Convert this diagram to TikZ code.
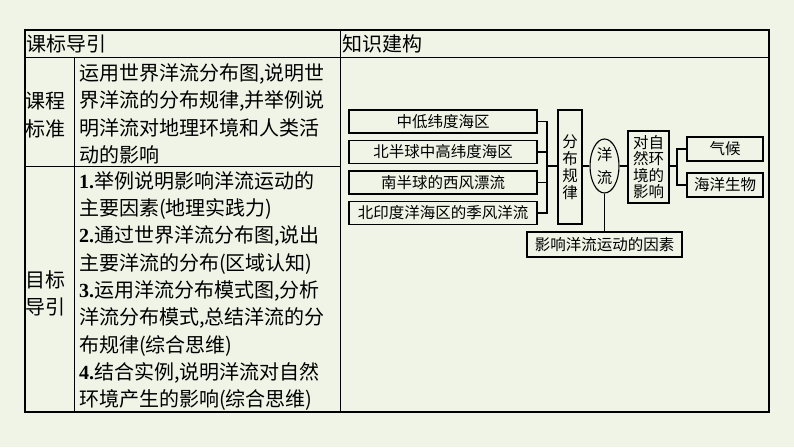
\documentclass[tikz,border=0pt]{standalone}
\usepackage{fontspec}
\usetikzlibrary{shapes.geometric}
\newfontfamily\cjk{Noto Sans CJK SC}
\newfontfamily\numfont{Liberation Serif}
\definecolor{paper_green}{RGB}{239,244,230}
\tikzset{
  cell/.style={inner sep=0pt, align=left, font=\cjk\fontsize{20}{27.3}\selectfont},
  item/.style={draw, line width=1.1pt, inner sep=0pt, align=center, font=\cjk\fontsize{15.5}{17}\selectfont},
  link/.style={line width=1.1pt}
}
\begin{document}
\begin{tikzpicture}[x=1pt,y=-1pt]
\fill[paper_green] (0,0) rectangle (794,447);
\useasboundingbox (0,0) rectangle (794,447);
\draw[line width=1.6pt] (25,30) rectangle (769,412);
\draw[line width=0.9pt] (25,57) -- (769,57) (340,30) -- (340,412) (74,57) -- (74,412) (25,166) -- (340,166);

\node[cell, anchor=west] (head_left) at (26,44) {课标导引};
\node[cell, anchor=west] (head_right) at (342,44) {知识建构};
\node[cell, anchor=west] (std_label) at (25,115) {课程\\标准};
\node[cell, anchor=west] (goal_label) at (25,293.5) {目标\\导引};
\node[cell, anchor=west] (std_text) at (79,114) {运用世界洋流分布图,说明世\\界洋流的分布规律,并举例说\\明洋流对地理环境和人类活\\动的影响};
\node[cell, anchor=west] (goal_text) at (79,291) {{\numfont\bfseries 1.}举例说明影响洋流运动的\\主要因素(地理实践力)\\{\numfont\bfseries 2.}通过世界洋流分布图,说出\\主要洋流的分布(区域认知)\\{\numfont\bfseries 3.}运用洋流分布模式图,分析\\洋流分布模式,总结洋流的分\\布规律(综合思维)\\{\numfont\bfseries 4.}结合实例,说明洋流对自然\\环境产生的影响(综合思维)};

\node[item, minimum width=188pt, minimum height=23pt] (mid_low) at (443,121.5) {中低纬度海区};
\node[item, minimum width=188pt, minimum height=23pt] (north_mid) at (443,152) {北半球中高纬度海区};
\node[item, minimum width=188pt, minimum height=23pt] (west_wind) at (443,182.5) {南半球的西风漂流};
\node[item, minimum width=188pt, minimum height=23pt] (monsoon) at (443,213) {北印度洋海区的季风洋流};
\node[item, minimum width=24pt, minimum height=114pt] (law) at (570,167) {分\\布\\规\\律};
\node[item, ellipse, minimum width=29pt, minimum height=54pt, font=\cjk\fontsize{15.5}{23}\selectfont] (ocean) at (604.5,166) {洋\\流};
\node[item, minimum width=41pt, minimum height=72pt, font=\cjk\fontsize{15.5}{16.3}\selectfont] (effect) at (648.5,167) {对自\\然环\\境的\\影响};
\node[item, minimum width=76pt, minimum height=24pt] (climate) at (725,149) {气候};
\node[item, minimum width=76pt, minimum height=24pt] (marine) at (725,185) {海洋生物};
\node[item, minimum width=155pt, minimum height=25pt] (factor) at (604.5,244.5) {影响洋流运动的因素};

\coordinate (left_join) at (547,166);
\coordinate (right_join) at (677,166);
\draw[link] (mid_low.east) -| (left_join) (north_mid.east) -| (left_join) (west_wind.east) -| (left_join) (monsoon.east) -| (left_join);
\draw[link] (left_join) -- (left_join -| law.west);
\draw[link] (law.east |- ocean) -- (ocean.west) (ocean.east) -- (ocean.east -| effect.west);
\draw[link] (effect.east |- right_join) -- (right_join) (right_join) |- (climate.west) (right_join) |- (marine.west);
\draw[link] (ocean.south) -- (factor.north);
\end{tikzpicture}
\end{document}
